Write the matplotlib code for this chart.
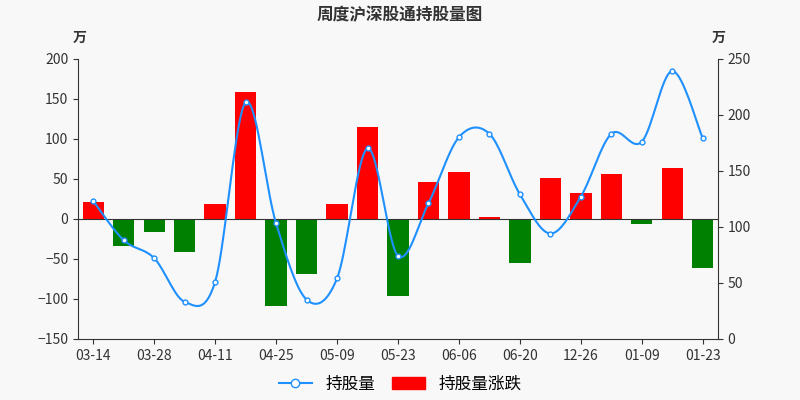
import numpy as np
import matplotlib.pyplot as plt

plt.rcParams['font.family'] = ['Noto Sans CJK SC', 'DejaVu Sans']

dates = ['03-14', '03-21', '03-28', '04-04', '04-11', '04-18', '04-25', '05-02', '05-09', '05-16',
         '05-23', '05-30', '06-06', '06-13', '06-20', '12-19', '12-26', '01-02', '01-09', '01-16', '01-23']
change = [21, -34, -16, -41, 18, 159, -109, -69, 19, 115, -96, 46, 59, 2, -55, 51, 32, 56, -6, 63, -61]
holding = [123, 88, 72, 33, 51, 211, 103, 35, 54, 170, 74, 121, 180, 183, 129, 94, 127, 183, 176, 239, 179]

bg = '#f8f8f8'
fig = plt.figure(figsize=(8, 4), dpi=100, facecolor=bg)
ax = fig.add_axes([0.0975, 0.153, 0.8, 0.7], facecolor=bg)
ax2 = ax.twinx()

x = np.arange(len(dates))
colors = ['#ff0000' if v >= 0 else '#008000' for v in change]
bars = ax.bar(x, change, width=0.7, color=colors)
ax.axhline(0, color='#333333', lw=0.8)
ax.set_ylim(-150, 200)
ax.set_yticks(range(-150, 201, 50))
ax.set_xlim(-0.5, len(dates) - 0.5)
ax.set_xticks(x[::2])
ax.set_xticklabels(dates[::2])

# smooth curve through the points (Catmull-Rom)
xs, ys = [], []
px = np.concatenate([[x[0]], x, [x[-1]]]).astype(float)
py = np.concatenate([[holding[0]], holding, [holding[-1]]]).astype(float)
for i in range(1, len(px) - 2):
    t = np.linspace(0, 1, 20)
    for arr, out in ((px, xs), (py, ys)):
        p0, p1, p2, p3 = arr[i - 1:i + 3]
        out.extend(0.5 * (2 * p1 + (-p0 + p2) * t + (2 * p0 - 5 * p1 + 4 * p2 - p3) * t ** 2
                          + (-p0 + 3 * p1 - 3 * p2 + p3) * t ** 3))
line_c = '#1e90ff'
ax2.plot(xs, ys, color=line_c, lw=1.5)
ax2.plot(x, holding, 'o', ms=3.5, mfc='white', mec=line_c, mew=1)
ax2.set_ylim(0, 250)
ax2.set_yticks(range(0, 251, 50))

for a in (ax, ax2):
    for s in ('top',):
        a.spines[s].set_visible(False)
    a.tick_params(colors='#333333', labelsize=10)
    for s in ('left', 'right', 'bottom'):
        a.spines[s].set_color('#333333')
ax.spines['right'].set_visible(False)
ax2.spines['left'].set_visible(False)
ax2.spines['bottom'].set_visible(False)

fig.text(0.1, 0.895, '万', fontsize=10, fontweight='bold', color='#333333', ha='center')
fig.text(0.898, 0.895, '万', fontsize=10, fontweight='bold', color='#333333', ha='center')
fig.text(0.5, 0.95, '周度沪深股通持股量图', fontsize=12, fontweight='bold', color='#333333', ha='center')

h1 = plt.Line2D([], [], color=line_c, marker='o', mfc='white', ms=6)
h2 = plt.Rectangle((0, 0), 1, 1, color='#ff0000')
fig.legend([h1, h2], ['持股量', '持股量涨跌'], loc='lower center', ncol=2, frameon=False,
           fontsize=12, bbox_to_anchor=(0.5, -0.02), handlelength=2, columnspacing=1)

fig.savefig('out.png', facecolor=bg)
